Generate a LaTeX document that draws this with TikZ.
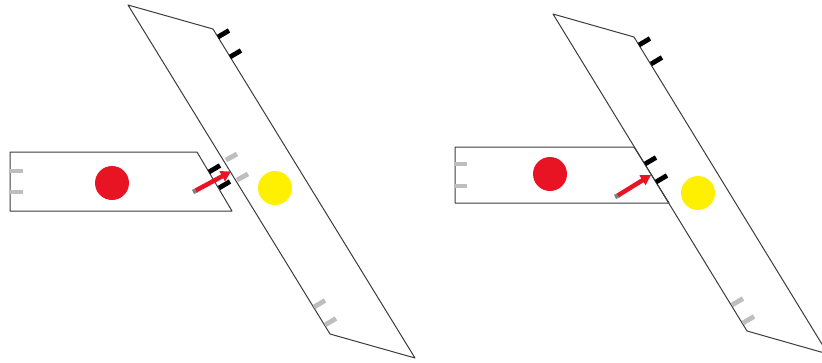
\documentclass[tikz,border=0pt]{standalone}
\usetikzlibrary{arrows.meta}
\definecolor{dotred}{RGB}{232,20,36}
\definecolor{dotyellow}{RGB}{255,240,0}
\definecolor{edgegrey}{RGB}{60,60,60}
\definecolor{tickgrey}{RGB}{190,190,190}
\begin{document}
\begin{tikzpicture} [x = 1pt, y = -1pt,
	outline/.style = {draw = edgegrey, line width = 1pt, line join = round},
	blacktick/.style = {black, line width = 4.8pt},
	greytick/.style = {tickgrey, line width = 4.8pt},
	pusharrow/.style = {dotred, line width = 4.5pt, -{Triangle[length = 10pt, width = 11pt]}}]
	\useasboundingbox (0,0) rectangle (822,362);
	\clip (0,0) rectangle (822,362);
	% left: before
	\draw [outline] (128,5) -- (213,29) -- (415,358) -- (330,334) -- cycle;
	\draw [outline] (10,152) -- (197,152) -- (232,211) -- (10,211) -- cycle;
	\draw [greytick] (10,171) -- (23,171);
	\draw [greytick] (10,192) -- (23,192);
	\draw [blacktick] (209,172) -- +(11,-6.5);
	\draw [blacktick] (219,188) -- +(11,-6.5);
	\draw [greytick] (226,160) -- +(11,-6);
	\draw [greytick] (237,180) -- +(11,-6);
	\draw [blacktick] (218,37) -- +(11,-6.5);
	\draw [blacktick] (230,57) -- +(11,-6.5);
	\draw [greytick] (314,307) -- +(11,-6.5);
	\draw [greytick] (325,325) -- +(11,-6.5);
	\fill [dotred] (112,183) circle (17);
	\fill [dotyellow] (275,188) circle (17);
	\draw [gray, line width = 4.5pt] (193,192) -- (197,190);
	\draw [pusharrow] (196,190.4) -- (231,171.5);
	% right: after
	\draw [outline] (553,14) -- (634,37) -- (828,354) -- (747,331) -- cycle;
	\draw [outline] (455,147) -- (634,147) -- (669,203) -- (455,203) -- cycle;
	\draw [greytick] (455,164) -- (467,164);
	\draw [greytick] (455,186) -- (467,186);
	\draw [blacktick] (645,164) -- +(11,-6.5);
	\draw [blacktick] (656,182) -- +(11,-6.5);
	\draw [blacktick] (639,45) -- +(11,-6.5);
	\draw [blacktick] (651,64) -- +(11,-6.5);
	\draw [greytick] (732,305) -- +(11,-6.5);
	\draw [greytick] (743,323) -- +(11,-6.5);
	\fill [dotred] (550,174) circle (17);
	\fill [dotyellow] (698,193) circle (17);
	\draw [gray, line width = 4.5pt] (615,197) -- (619,195);
	\draw [pusharrow] (618,195.4) -- (651,175);
\end{tikzpicture}
\end{document}
